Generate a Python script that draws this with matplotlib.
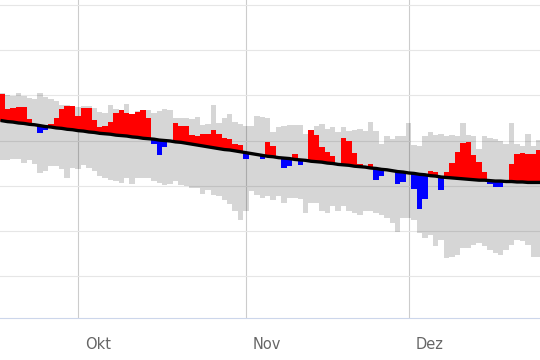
import numpy as np
import pandas as pd
import matplotlib
matplotlib.use("Agg")
import matplotlib.pyplot as plt
import matplotlib.dates as mdates

# Tage 17.09. bis 25.12.
tage = pd.date_range("2023-09-17", "2023-12-25", freq="D")

normal = [14.4, 14.2, 14.1, 13.9, 13.8, 13.6, 13.5, 13.3, 13.1, 13.0, 12.8, 12.7, 12.5, 12.4, 12.2, 12.1, 11.9,
          11.8, 11.6, 11.5, 11.4, 11.2, 11.1, 11.0, 10.8, 10.7, 10.5, 10.4, 10.3, 10.1, 10.0, 9.9, 9.7, 9.6,
          9.4, 9.2, 9.0, 8.8, 8.6, 8.4, 8.2, 8.0, 7.9, 7.7, 7.5, 7.3, 7.1, 6.9, 6.7, 6.5,
          6.4, 6.2, 6.1, 6.0, 5.8, 5.7, 5.6, 5.4, 5.3, 5.2, 5.0, 4.9, 4.7, 4.6, 4.5, 4.3, 4.2,
          4.1, 3.9, 3.8, 3.6, 3.5, 3.3, 3.1, 3.0, 2.8, 2.7, 2.5, 2.4, 2.2, 2.1, 1.9, 1.8, 1.7,
          1.6, 1.5, 1.4, 1.3, 1.2, 1.2, 1.1, 1.0, 1.0, 0.9, 0.9, 0.8, 0.8, 0.7, 0.7, 0.7]

mittel = [20.3, 17.0, 17.2, 17.5, 17.5, 14.7, 13.5, 11.7, 12.3, 13.6, 15.1, 17.0, 17.7, 17.6,
          15.5, 17.3, 17.3, 14.5, 13.0, 13.2, 14.2, 16.2, 16.7, 16.2, 16.0, 16.4, 16.7, 15.1, 9.2, 6.8, 8.6, 9.9, 14.0,
          13.2, 13.2, 11.2, 11.0, 11.4, 11.4, 12.3, 11.4, 10.6, 10.3, 9.3, 9.1, 5.8, 7.1, 6.9, 5.8, 9.6,
          8.8, 6.2, 3.9, 4.3, 7.1, 4.6, 5.6, 12.3, 11.2, 8.6, 7.5, 6.5, 4.7, 10.5, 9.9, 7.3, 4.7,
          4.1, 4.7, 1.3, 2.1, 3.5, 3.3, 0.4, 0.8, 2.8, -0.7, -5.1, -2.9, 3.3, 3.0, -0.9, 3.0, 5.0,
          7.5, 9.4, 9.7, 6.7, 5.3, 3.0, 0.4, -0.4, -0.4, 0.9, 4.7, 7.0, 7.3, 6.9, 7.0, 7.8]

oben = [20.5, 20.2, 19.9, 20.5, 19.8, 19.4, 19.2, 20.5, 19.6, 19.2, 18.8, 17.9, 17.9, 17.7,
        17.5, 17.7, 17.7, 17.3, 16.4, 16.2, 17.9, 17.0, 16.6, 18.2, 16.0, 16.6, 16.6, 16.7, 16.2, 16.6, 16.9, 16.7, 15.0,
        15.1, 15.1, 14.7, 15.3, 13.4, 13.6, 17.9, 14.0, 15.1, 16.0, 14.1, 13.6, 13.3, 13.3, 15.5, 15.3, 15.1,
        11.8, 12.9, 13.3, 13.4, 13.4, 13.4, 11.4, 12.4, 13.3, 13.6, 12.6, 12.9, 11.9, 12.9, 12.1, 12.3, 12.5,
        12.1, 14.1, 12.1, 9.2, 10.9, 10.4, 10.9, 10.9, 13.8, 8.9, 8.8, 10.9, 11.8, 11.2, 11.4, 10.9, 11.2,
        11.0, 14.0, 11.2, 10.9, 8.2, 10.9, 10.6, 10.3, 9.9, 9.2, 14.0, 9.2, 8.8, 11.4, 8.8, 10.1]

unten = [5.6, 5.6, 6.0, 6.0, 5.1, 5.6, 4.7, 2.8, 3.3, 4.3, 4.3, 3.6, 1.7, 4.0,
         3.6, 4.5, 3.9, 3.3, 2.1, 1.6, 1.3, 1.1, 0.6, 1.7, 0.4, 1.6, 1.7, 1.6, 1.0, 0.6, 0.1, 0.4, 1.0,
         0.2, 0.0, -0.5, -0.5, -1.8, -0.9, -2.0, -2.4, -3.1, -4.2, -5.7, -7.6, -5.7, -1.3, -2.0, -2.7, -2.4,
         -3.1, -2.4, -3.9, -2.7, -2.7, -3.0, -6.1, -3.9, -3.9, -5.7, -6.1, -4.6, -5.7, -4.6, -5.7, -6.1, -6.5,
         -5.7, -5.7, -6.1, -6.5, -7.2, -8.3, -10.2, -7.2, -7.2, -7.6, -10.6, -11.7, -11.0, -13.5, -12.0, -16.1, -15.8,
         -15.4, -13.9, -13.9, -13.2, -12.8, -13.5, -14.3, -15.0, -15.4, -14.3, -13.2, -12.0, -12.4, -13.2, -15.8, -15.8]

monate = ["2023-10-01", "2023-11-01", "2023-12-01"]
monat_namen = ["Okt", "Nov", "Dez"]

x = mdates.date2num(tage)
normal = np.array(normal)
mittel = np.array(mittel)
oben = np.array(oben)
unten = np.array(unten)
abw = mittel - normal
farben = np.where(abw >= 0, "#ff0000", "#0000ff")

fig = plt.figure(figsize=(5.4, 3.6), dpi=100)
ax = fig.add_axes([0, 42 / 360, 1, 318 / 360])

ax.bar(x, oben - unten, bottom=unten, width=1.0, color=(0, 0, 0, 0.16), linewidth=0, zorder=2)
ax.bar(x, abw, bottom=normal, width=1.0, color=farben, linewidth=0, zorder=3)
ax.plot(x, normal, color="black", linewidth=2.4, zorder=4)

m = mdates.date2num(pd.to_datetime(monate))
ax.set_xticks(m)
ax.set_xticklabels([])
ax.set_xticks(m + 3.8, minor=True)
ax.set_xticklabels(monat_namen, minor=True)
ax.tick_params(axis="x", which="both", length=0)
ax.tick_params(axis="x", which="minor", pad=13.5, labelsize=10.5, labelcolor="#666666")
ax.grid(axis="x", which="major", color="#cccccc", linewidth=0.8, zorder=1)

ax.set_yticks([-20, -10, 0, 10, 20, 30, 40])
ax.set_yticklabels([])
ax.tick_params(axis="y", length=0)
ax.grid(axis="y", color="#e6e6e6", linewidth=0.8, zorder=0)
ax.set_axisbelow(True)

okt = mdates.date2num(pd.Timestamp("2023-10-01"))
ax.set_xlim(okt - 14.39, okt + 85.24)
ax.set_ylim(-29.4, 41.2)

for s in ["top", "left", "right"]:
    ax.spines[s].set_visible(False)
ax.spines["bottom"].set_color("#ccd6eb")
ax.spines["bottom"].set_linewidth(0.8)

fig.savefig("out.png", dpi=100)
